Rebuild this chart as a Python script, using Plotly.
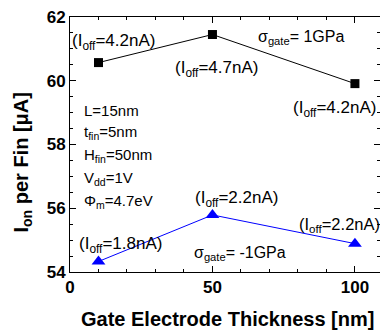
import plotly.graph_objects as go

# Gate electrode thickness sweep [nm]
thickness = [10, 50, 100]
# On-current per fin [uA] for the two gate stress cases
ion_pos_stress = [60.57, 61.45, 59.91]   # sigma_gate = +1 GPa
ion_neg_stress = [54.33, 55.79, 54.89]   # sigma_gate = -1 GPa
# Off-current labels attached to each point
ioff_pos = ["4.2", "4.7", "4.2"]
ioff_neg = ["1.8", "2.2", "2.2"]
# Device parameters listed inside the plot
params = ["L=15nm", "t<sub>fin</sub>=5nm", "H<sub>fin</sub>=50nm",
          "V<sub>dd</sub>=1V", "Φ<sub>m</sub>=4.7eV"]

W, H = 380, 334
ML, MR, MT, MB = 70, 0, 17, 62
PW, PH = W - ML - MR, H - MT - MB
FONT = "Liberation Sans, Arial, sans-serif"


def px(x, y):
    """Pixel position on the page -> paper coordinates."""
    return (x - ML) / PW, (H - MB - y) / PH


fig = go.Figure()
fig.add_trace(go.Scatter(
    x=thickness, y=ion_pos_stress, mode="lines+markers",
    line=dict(color="black", width=1),
    marker=dict(symbol="square", size=9, color="black"),
    showlegend=False))
fig.add_trace(go.Scatter(
    x=thickness, y=ion_neg_stress, mode="lines+markers",
    line=dict(color="#0000ff", width=1),
    marker=dict(symbol="triangle-up", size=12, color="#0000ff"),
    showlegend=False))

annotations = []


def label(text, x, y, size=17, **kw):
    xp, yp = px(x, y)
    annotations.append(dict(
        text=text, x=xp, y=yp, xref="paper", yref="paper",
        xanchor="left", yanchor="middle", showarrow=False,
        font=dict(family=FONT, size=size, color="black"), **kw))


ioff = lambda v: f"(I<sub>off</sub>={v}nA)"
# labels for the +1 GPa series
label(ioff(ioff_pos[0]), 70, 42)
label(ioff(ioff_pos[1]), 173, 69)
label(ioff(ioff_pos[2]), 291, 109)
label("σ<sub>gate</sub>= 1GPa", 256, 37, size=16)
# labels for the -1 GPa series
label(ioff(ioff_neg[0]), 77, 245)
label(ioff(ioff_neg[1]), 193, 199)
label(ioff(ioff_neg[2]), 297, 225, size=16.5)
label("σ<sub>gate</sub>= -1GPa", 192, 253, size=16)
# parameter block
for i, p in enumerate(params):
    label(p, 82, 110 + 22.75 * i, size=15)

# axis titles
xp, yp = px(22, 162.5)
annotations.append(dict(
    text="<b>I<sub>on</sub> per Fin [μA]</b>", x=xp, y=yp,
    xref="paper", yref="paper", textangle=-90, showarrow=False,
    xanchor="center", yanchor="middle",
    font=dict(family=FONT, size=20, color="black")))
xp, yp = px(227, 319)
annotations.append(dict(
    text="<b>Gate Electrode Thickness [nm]</b>", x=xp, y=yp,
    xref="paper", yref="paper", showarrow=False,
    xanchor="center", yanchor="middle",
    font=dict(family=FONT, size=20, color="black")))

axis_common = dict(
    showline=True, linecolor="black", linewidth=1, mirror="ticks",
    ticks="inside", ticklen=6, tickwidth=1, tickcolor="black",
    showgrid=False, zeroline=False,
    tickfont=dict(family=FONT, size=17, color="black", weight="bold"),
)

fig.update_layout(
    width=W, height=H,
    margin=dict(l=ML, r=MR, t=MT, b=MB),
    paper_bgcolor="white", plot_bgcolor="white",
    xaxis=dict(range=[0, 108.8], tickvals=[0, 50, 100],
               minor=dict(dtick=10, tick0=0, ticks="inside", ticklen=3,
                          tickcolor="black"),
               **axis_common),
    yaxis=dict(range=[54, 62], tickvals=[54, 56, 58, 60, 62],
               minor=dict(dtick=0.5, tick0=54, ticks="inside", ticklen=3,
                          tickcolor="black"),
               **axis_common),
    annotations=annotations,
)

fig.write_html("out.html")
